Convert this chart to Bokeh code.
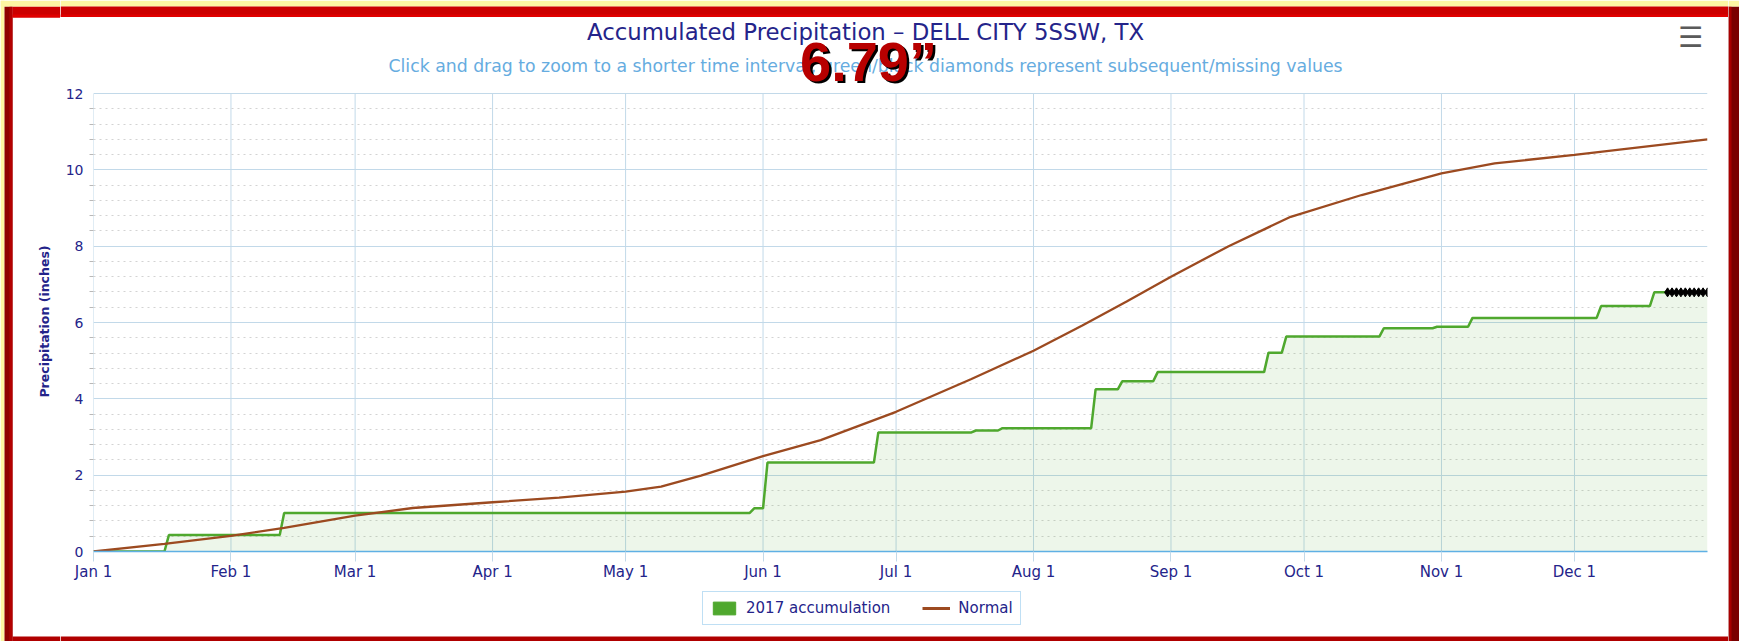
import math
import pandas as pd
from bokeh.plotting import figure
from bokeh.layouts import row, column
from bokeh.models import (Range1d, FixedTicker, Legend, LegendItem, Label, BoxAnnotation)
from bokeh.embed import file_html
from bokeh.resources import INLINE

# ---------------- data ----------------
year_start = "2017-01-01"
year_end = "2017-12-31"

# 2017 accumulation: dates on which the running total changed, and the new total (inches)
step_dates = ["2017-01-18", "2017-02-13", "2017-05-30", "2017-06-02", "2017-06-27",
              "2017-07-19", "2017-07-25", "2017-08-15", "2017-08-21", "2017-08-29",
              "2017-09-23", "2017-09-27", "2017-10-19", "2017-10-31", "2017-11-08",
              "2017-12-07", "2017-12-19"]
step_totals = [0.43, 1.01, 1.13, 2.33, 3.12, 3.17, 3.23, 4.25, 4.46, 4.70,
               5.21, 5.63, 5.85, 5.89, 6.12, 6.43, 6.79]
last_reported = "2017-12-22"

# subsequent / missing values (black diamonds)
missing_dates = ["2017-12-22", "2017-12-23", "2017-12-24", "2017-12-25", "2017-12-26",
                 "2017-12-27", "2017-12-28", "2017-12-29", "2017-12-30", "2017-12-31"]
missing_values = [6.79] * 10

# normal accumulation
normal_dates = ["2017-01-01", "2017-01-17", "2017-02-01", "2017-02-13", "2017-03-01",
                "2017-03-14", "2017-04-01", "2017-04-16", "2017-05-01", "2017-05-09",
                "2017-05-18", "2017-06-01", "2017-06-14", "2017-07-01", "2017-07-18",
                "2017-08-01", "2017-08-12", "2017-08-22", "2017-09-01", "2017-09-14",
                "2017-09-28", "2017-10-14", "2017-11-01", "2017-11-13", "2017-12-01",
                "2017-12-31"]
normal_values = [0.00, 0.20, 0.41, 0.62, 0.94, 1.14, 1.29, 1.41, 1.57, 1.70,
                 1.99, 2.50, 2.92, 3.66, 4.52, 5.26, 5.92, 6.55, 7.20, 8.00,
                 8.77, 9.34, 9.91, 10.17, 10.39, 10.80]

tick_dates = ["2017-01-01", "2017-02-01", "2017-03-01", "2017-04-01", "2017-05-01",
              "2017-06-01", "2017-07-01", "2017-08-01", "2017-09-01", "2017-10-01",
              "2017-11-01", "2017-12-01"]
tick_labels = ["Jan 1", "Feb 1", "Mar 1", "Apr 1", "May 1", "Jun 1", "Jul 1",
               "Aug 1", "Sep 1", "Oct 1", "Nov 1", "Dec 1"]
y_ticks = [0, 2, 4, 6, 8, 10, 12]
y_max = 12

title_text = "Accumulated Precipitation \u2013 DELL CITY 5SSW, TX"
subtitle_text = ("Click and drag to zoom to a shorter time interval; "
                 "green/black diamonds represent subsequent/missing values")
overlay_text = "6.79\u201d"
y_title = "Precipitation (inches)"
legend_labels = ["2017 accumulation", "Normal"]

# ---------------- build series ----------------
day = pd.Timedelta(days=1)
acc_x = [pd.Timestamp(year_start)]
acc_y = [0.0]
prev = 0.0
for d, v in zip(step_dates, step_totals):
    t = pd.Timestamp(d)
    acc_x += [t - day, t]
    acc_y += [prev, v]
    prev = v
acc_x.append(pd.Timestamp(last_reported))
acc_y.append(prev)
fill_x = acc_x + [pd.Timestamp(missing_dates[-1])]
fill_y = acc_y + [missing_values[-1]]

missing_x = [pd.Timestamp(d) for d in missing_dates]
normal_x = [pd.Timestamp(d) for d in normal_dates]
tick_x = [pd.Timestamp(d) for d in tick_dates]

def ms(s):
    return pd.Timestamp(s).value / 1e6

x0, x1 = ms(year_start), ms(year_end)

# minor y ticks every 0.4 in
minor_y = [round(0.4 * i, 1) for i in range(int(y_max / 0.4) + 1)
           if round(0.4 * i, 1) not in y_ticks]

# ---------------- layout constants (pixels) ----------------
TOTAL_W, TOTAL_H = 1739, 641
LEFT_W, RIGHT_W = 60, 11
COL_W = TOTAL_W - LEFT_W - RIGHT_W          # 1668
TOP_H = 17
MAIN_H = 569
FOOT_H = TOTAL_H - TOP_H - MAIN_H           # 55
PLOT_L, PLOT_R = 93, 1707                   # chart area, page pixels
PLOT_T, PLOT_B = 93, 551
FRAME_T = TOP_H                             # frame extends up to the top strip
Y_TOP = y_max * (PLOT_B - FRAME_T) / (PLOT_B - PLOT_T)

def fx(px):   # page x -> data x
    return x0 + (px - PLOT_L) / (PLOT_R - PLOT_L) * (x1 - x0)

def fy(py):   # page y -> data y
    return (PLOT_B - py) * y_max / (PLOT_B - PLOT_T)

NAVY = "#24248a"
FONT = "DejaVu Sans"
YELLOW = "#fdf6a3"
RED = "#cc0000"
DARKRED = "#8e0000"
GREEN = "#4fa82e"
BROWN = "#9c4a20"
GRID = "#c2d9e9"


def blank(width, height, xr, yr):
    f = figure(width=width, height=height, x_range=Range1d(*xr), y_range=Range1d(*yr),
               output_backend="svg", toolbar_location=None, title=None,
               x_axis_location=None, y_axis_location=None,
               min_border=0, min_border_left=0, min_border_right=0,
               min_border_top=0, min_border_bottom=0,
               outline_line_color=None, background_fill_color="white",
               border_fill_color="white")
    f.frame_align = False
    f.xgrid.grid_line_color = None
    f.ygrid.grid_line_color = None
    return f


def box(f, l, r, b, t, color):
    f.add_layout(BoxAnnotation(left=l, right=r, bottom=b, top=t, fill_color=color,
                               fill_alpha=1, line_color=None, level="overlay"))


# ---------------- left margin (frame strip + y-axis title) ----------------
left = blank(LEFT_W, TOTAL_H, (0, LEFT_W), (0, TOTAL_H))
box(left, 0, 4, 0, TOTAL_H, YELLOW)
box(left, 4, 12, 0, TOTAL_H - 6, DARKRED)
box(left, 9, 12, 0, TOTAL_H - 6, "#b30000")
box(left, 12, LEFT_W, TOTAL_H - TOP_H, TOTAL_H - 6, RED)
box(left, 12, LEFT_W, TOTAL_H - TOP_H, TOTAL_H - TOP_H + 3, "#e00000")
box(left, 12, LEFT_W, 0, 5, "#b00000")
box(left, 0, LEFT_W, TOTAL_H - 6, TOTAL_H, YELLOW)
left.add_layout(Label(x=44, y=TOTAL_H - 321, text=y_title, angle=math.pi / 2,
                      text_align="center", text_baseline="middle", text_font=FONT,
                      text_font_size="12.5px", text_font_style="bold", text_color=NAVY))

right = blank(RIGHT_W, TOTAL_H, (0, RIGHT_W), (0, TOTAL_H))
box(right, 0, RIGHT_W, 0, TOTAL_H - 6, "#7a0000")
box(right, 0, 3, 0, TOTAL_H - 6, "#a80000")
box(right, 0, RIGHT_W, TOTAL_H - 6, TOTAL_H, YELLOW)

top = blank(COL_W, TOP_H, (0, COL_W), (0, TOP_H))
box(top, 0, COL_W, TOP_H - 6, TOP_H, YELLOW)
box(top, 0, COL_W, 0, TOP_H - 6, RED)
box(top, 0, COL_W, 0, 3, "#e00000")

# ---------------- main chart ----------------
p = figure(width=COL_W, height=MAIN_H, x_axis_type="datetime",
           x_range=Range1d(x0, x1), y_range=Range1d(0, Y_TOP),
           output_backend="svg", toolbar_location=None, title=None,
           min_border_left=PLOT_L - LEFT_W, min_border_right=LEFT_W + COL_W - PLOT_R,
           min_border_top=0, min_border_bottom=35,
           outline_line_color=None, background_fill_color="white",
           border_fill_color="white")
p.frame_align = False

tick_ms = [ms(d) for d in tick_dates]
p.xaxis.ticker = FixedTicker(ticks=tick_ms)
p.xaxis.major_label_overrides = {t: l for t, l in zip(tick_ms, tick_labels)}
p.xgrid.grid_line_color = None
# vertical month grid lines limited to the chart area (0..12 in)
p.segment(x0=tick_x, y0=[0] * len(tick_x), x1=tick_x, y1=[y_max] * len(tick_x),
          line_color=GRID, line_width=1, level="underlay")

yt = FixedTicker(ticks=y_ticks, minor_ticks=minor_y)
p.yaxis.ticker = yt
p.ygrid.ticker = yt
p.yaxis.bounds = (0, y_max)
p.ygrid.grid_line_color = GRID
p.ygrid.minor_grid_line_color = "#d3d3d3"
p.ygrid.minor_grid_line_dash = "2 4"

p.xaxis.axis_line_color = "#5fb0e4"
p.xaxis.axis_line_width = 1.5
p.xaxis.major_tick_line_color = GRID
p.xaxis.major_tick_out = 10
p.xaxis.major_tick_in = 0
p.xaxis.minor_tick_line_color = None
p.xaxis.major_label_standoff = 1
p.xaxis.major_label_text_font = FONT
p.xaxis.major_label_text_font_size = "15px"
p.xaxis.major_label_text_color = NAVY

p.yaxis.axis_line_color = None
p.yaxis.major_tick_line_color = None
p.yaxis.major_tick_out = 0
p.yaxis.minor_tick_line_color = "#b8b8b8"
p.yaxis.minor_tick_out = 4
p.yaxis.minor_tick_in = 0
p.yaxis.major_label_standoff = 6
p.yaxis.major_label_text_font = FONT
p.yaxis.major_label_text_font_size = "14px"
p.yaxis.major_label_text_color = NAVY

p.varea(x=fill_x, y1=[0] * len(fill_x), y2=fill_y, fill_color=GREEN, fill_alpha=0.1)
acc_line = p.line(acc_x, acc_y, line_color=GREEN, line_width=2.5)
normal_line = p.line(normal_x, normal_values, line_color=BROWN, line_width=2.3)
p.scatter(missing_x, missing_values, marker="diamond", size=9,
          fill_color="black", line_color="black")

# titles, overlay and menu icon (inside the frame, above the chart area)
p.add_layout(Label(x=fx(865), y=fy(31), text=title_text, text_align="center",
                   text_baseline="middle", text_font=FONT, text_font_size="22.8px",
                   text_color=NAVY))
p.add_layout(Label(x=fx(865), y=fy(65), text=subtitle_text, text_align="center",
                   text_baseline="middle", text_font=FONT, text_font_size="17.3px",
                   text_color="#66ace0"))
p.add_layout(Label(x=fx(870.5), y=fy(63), text=overlay_text, text_align="center",
                   text_baseline="middle", text_font="Liberation Sans",
                   text_font_style="bold", text_font_size="56px", text_color="black"))
p.add_layout(Label(x=fx(868), y=fy(61), text=overlay_text, text_align="center",
                   text_baseline="middle", text_font="Liberation Sans",
                   text_font_style="bold", text_font_size="56px", text_color="#b80000"))
p.add_layout(Label(x=fx(1690), y=fy(37), text="\u2630", text_align="center",
                   text_baseline="middle", text_font=FONT, text_font_size="28px",
                   text_color="#5a5a5a"))

# ---------------- footer (legend) ----------------
foot = blank(COL_W, FOOT_H, (0, COL_W), (0, FOOT_H))
box(foot, 0, COL_W, 0, 5, "#b00000")
# legend swatches (drawn off-screen; only their legend glyphs are visible)
sw = foot.quad(left=[-100], right=[-90], top=[-90], bottom=[-100],
               fill_color=GREEN, line_color=GREEN)
nl = foot.line(x=[-100, -90], y=[-100, -100], line_color=BROWN, line_width=3)
legend = Legend(items=[LegendItem(label=legend_labels[0], renderers=[sw]),
                       LegendItem(label=legend_labels[1], renderers=[nl])],
                orientation="horizontal", location=(702 - LEFT_W, 16),
                label_text_font=FONT, label_text_font_size="15px",
                label_text_color=NAVY, border_line_color="#7fbfe9",
                border_line_width=1.5, padding=7, spacing=32, label_standoff=8,
                margin=0, glyph_width=28, glyph_height=16,
                background_fill_color="white")
foot.add_layout(legend, "center")

layout = row(left, column(top, p, foot), right)

open("out.html", "w").write(file_html(layout, INLINE))
